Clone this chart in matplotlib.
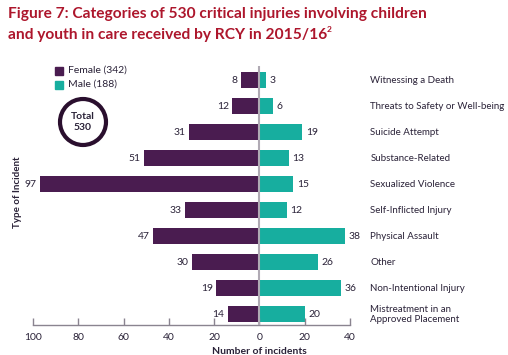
import matplotlib
matplotlib.use("Agg")
import matplotlib.pyplot as plt
from matplotlib.patches import Ellipse, Rectangle

plt.rcParams['font.family'] = ['Lato', 'DejaVu Sans']

categories = ["Witnessing a Death", "Threats to Safety or Well-being", "Suicide Attempt",
              "Substance-Related", "Sexualized Violence", "Self-Inflicted Injury",
              "Physical Assault", "Other", "Non-Intentional Injury",
              "Mistreatment in an\nApproved Placement"]
female = [8, 12, 31, 51, 97, 33, 47, 30, 19, 14]
male = [3, 6, 19, 13, 15, 12, 38, 26, 36, 20]
xticks = [-100, -80, -60, -40, -20, 0, 20, 40]
xticklabels = ["100", "80", "60", "40", "20", "0", "20", "40"]
female_label = "Female (342)"
male_label = "Male (188)"
total_label = "Total\n530"
title_line1 = "Figure 7: Categories of 530 critical injuries involving children"
title_line2 = "and youth in care received by RCY in 2015/16"
title_sup = "2"

FEM = "#4a1c50"
MAL = "#17ae9f"
TXT = "#2a2238"
RED = "#ad162c"
W, H = 508, 355

fig = plt.figure(figsize=(W/100, H/100), dpi=100)
ax = fig.add_axes([33/W, 1-325/H, 317/W, 259/H])

ys = list(range(len(categories)))
ax.barh(ys, [-v for v in female], height=0.62, color=FEM)
ax.barh(ys, male, height=0.62, color=MAL)
ax.axvline(0, color="#b0aab4", lw=1.5, zorder=3)

for y, f, m, c in zip(ys, female, male, categories):
    ax.text(-f - 1.5, y, str(f), ha="right", va="center", fontsize=7.5, color=TXT)
    ax.text(m + 1.5, y, str(m), ha="left", va="center", fontsize=7.5, color=TXT)
    ax.text(49, y, c, ha="left", va="center", fontsize=7, color=TXT, linespacing=1.15)

ax.set_xlim(-100, 40)
ax.set_ylim(9.42, -0.54)
ax.set_yticks([])
ax.set_xticks(xticks)
ax.set_xticklabels(xticklabels, fontsize=7.5, color=TXT)
ax.tick_params(axis="x", direction="in", length=5, width=1, color="#8a8490", pad=6)
for s in ["top", "right", "left"]:
    ax.spines[s].set_visible(False)
ax.spines["bottom"].set_color("#8a8490")
ax.spines["bottom"].set_linewidth(1)
ax.patch.set_alpha(0)

fig.text(259/W, 1-351/H, "Number of incidents", ha="center", va="center",
         fontsize=7.5, fontweight="bold", color=TXT)
fig.text(17/W, 1-192/H, "Type of Incident", ha="center", va="center", rotation=90,
         fontsize=7, fontweight="bold", color=TXT)

fig.text(8/W, 1-14/H, title_line1, ha="left", va="center", fontsize=11.2,
         fontweight="bold", color=RED)
t2 = fig.text(8/W, 1-35/H, title_line2, ha="left", va="center", fontsize=11.2,
              fontweight="bold", color=RED)
fig.canvas.draw()
bb = t2.get_window_extent()
fig.text((bb.x1 - 0.5)/W, 1-29/H, title_sup, ha="left", va="center", fontsize=6,
         fontweight="bold", color=RED)

# legend
fig.patches.append(Rectangle((55/W, 1-75/H), 8/W, 8/H, transform=fig.transFigure, color=FEM))
fig.patches.append(Rectangle((55/W, 1-89/H), 8/W, 8/H, transform=fig.transFigure, color=MAL))
fig.text(68/W, 1-70/H, female_label, ha="left", va="center", fontsize=7.5, color=TXT)
fig.text(68/W, 1-84/H, male_label, ha="left", va="center", fontsize=7.5, color=TXT)

# total circle
cx, cy, r = 83, 122, 23
fig.patches.append(Ellipse((cx/W, 1-cy/H), 2*r/W, 2*r/H, transform=fig.transFigure,
                           fill=False, ec="#2a0f2e", lw=3))
fig.text(cx/W, 1-cy/H, total_label, ha="center", va="center", fontsize=7.5,
         fontweight="bold", color=TXT, linespacing=1.3)

fig.savefig("out.png", dpi=100)
